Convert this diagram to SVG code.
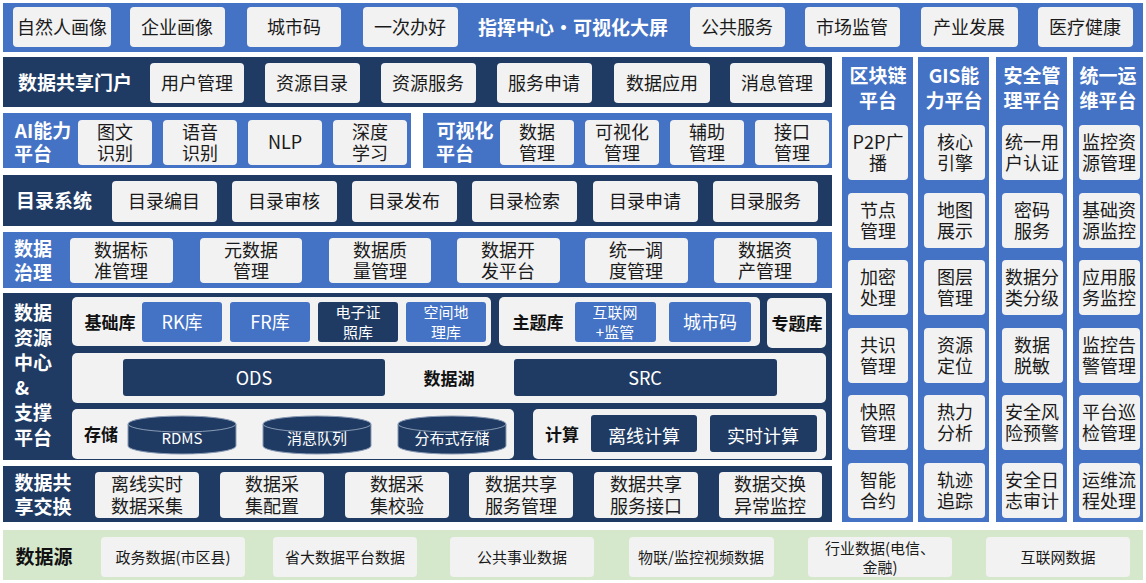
<svg xmlns="http://www.w3.org/2000/svg" width="1146" height="583" viewBox="0 0 1146 583">
<style>
text{font-family:"Noto Sans CJK SC","Liberation Sans",sans-serif;text-anchor:middle;dominant-baseline:central}
.b{fill:#4472C4}.d{fill:#1F3B63}.g{fill:#D5E8CC}
.box{fill:#F2F2F2;rx:4}
.pn{fill:#F2F2F2;rx:5}
.t{font-size:18px;fill:#1a1a1a}
.ts{font-size:15px;fill:#1a1a1a}
.w{font-size:18px;fill:#fff}
.L{font-size:19px;font-weight:bold;fill:#fff}
.K{font-size:17px;font-weight:bold;fill:#111}
.bb{fill:#4472C4;rx:3}.db{fill:#1F3B63;rx:3}
</style>
<rect width="1146" height="583" fill="#fff"/>
<g id="row-apps">
<rect class="b" x="3" y="3" width="1140" height="49"/>
<rect class="box" x="13" y="7" width="98" height="40"/><text class="t" x="62" y="26">自然人画像</text>
<rect class="box" x="130" y="7" width="95" height="40"/><text class="t" x="177" y="26">企业画像</text>
<rect class="box" x="247" y="7" width="94" height="40"/><text class="t" x="294" y="26">城市码</text>
<rect class="box" x="363" y="7" width="95" height="40"/><text class="t" x="410" y="26">一次办好</text>
<text class="L" x="573" y="26">指挥中心·可视化大屏</text>
<rect class="box" x="690" y="7" width="95" height="40"/><text class="t" x="737" y="26">公共服务</text>
<rect class="box" x="805" y="7" width="95" height="40"/><text class="t" x="852" y="26">市场监管</text>
<rect class="box" x="921" y="7" width="97" height="40"/><text class="t" x="969" y="26">产业发展</text>
<rect class="box" x="1038" y="7" width="95" height="40"/><text class="t" x="1085" y="26">医疗健康</text>
</g>
<g id="row-portal">
<rect class="d" x="3" y="57" width="829" height="50"/>
<text class="L" x="75" y="81">数据共享门户</text>
<rect class="box" x="150" y="63" width="94" height="40"/><text class="t" x="197" y="82">用户管理</text>
<rect class="box" x="265" y="63" width="95" height="40"/><text class="t" x="312" y="82">资源目录</text>
<rect class="box" x="381" y="63" width="95" height="40"/><text class="t" x="428" y="82">资源服务</text>
<rect class="box" x="497" y="63" width="95" height="40"/><text class="t" x="544" y="82">服务申请</text>
<rect class="box" x="614" y="63" width="96" height="40"/><text class="t" x="662" y="82">数据应用</text>
<rect class="box" x="730" y="63" width="95" height="40"/><text class="t" x="777" y="82">消息管理</text>
</g>
<g id="row-ai">
<rect class="b" x="3" y="113" width="408" height="55"/>
<text class="L" x="43" y="129">AI能力</text><text class="L" x="33" y="152">平台</text>
<rect class="box" x="78" y="120" width="74" height="45"/><text class="t" x="115" y="131">图文</text><text class="t" x="115" y="152">识别</text>
<rect class="box" x="163" y="120" width="74" height="45"/><text class="t" x="200" y="131">语音</text><text class="t" x="200" y="152">识别</text>
<rect class="box" x="248" y="120" width="74" height="45"/><text class="t" x="285" y="141">NLP</text>
<rect class="box" x="333" y="120" width="74" height="45"/><text class="t" x="370" y="131">深度</text><text class="t" x="370" y="152">学习</text>
</g>
<g id="row-vis">
<rect class="b" x="423" y="113" width="409" height="55"/>
<text class="L" x="465" y="129">可视化</text><text class="L" x="455" y="152">平台</text>
<rect class="box" x="500" y="120" width="74" height="45"/><text class="t" x="537" y="131">数据</text><text class="t" x="537" y="152">管理</text>
<rect class="box" x="585" y="120" width="74" height="45"/><text class="t" x="622" y="131">可视化</text><text class="t" x="622" y="152">管理</text>
<rect class="box" x="670" y="120" width="74" height="45"/><text class="t" x="707" y="131">辅助</text><text class="t" x="707" y="152">管理</text>
<rect class="box" x="755" y="120" width="74" height="45"/><text class="t" x="792" y="131">接口</text><text class="t" x="792" y="152">管理</text>
</g>
<g id="row-catalog">
<rect class="d" x="3" y="175" width="829" height="51"/>
<text class="L" x="54" y="199">目录系统</text>
<rect class="box" x="112" y="181" width="105" height="41"/><text class="t" x="164" y="200">目录编目</text>
<rect class="box" x="232" y="181" width="105" height="41"/><text class="t" x="284" y="200">目录审核</text>
<rect class="box" x="352" y="181" width="105" height="41"/><text class="t" x="404" y="200">目录发布</text>
<rect class="box" x="472" y="181" width="105" height="41"/><text class="t" x="524" y="200">目录检索</text>
<rect class="box" x="593" y="181" width="105" height="41"/><text class="t" x="645" y="200">目录申请</text>
<rect class="box" x="713" y="181" width="105" height="41"/><text class="t" x="765" y="200">目录服务</text>
</g>
<g id="row-gov">
<rect class="b" x="3" y="232" width="829" height="56"/>
<text class="L" x="33" y="247">数据</text><text class="L" x="33" y="271">治理</text>
<rect class="box" x="70" y="238" width="103" height="45"/><text class="t" x="121" y="249">数据标</text><text class="t" x="121" y="270">准管理</text>
<rect class="box" x="200" y="238" width="102" height="45"/><text class="t" x="251" y="249">元数据</text><text class="t" x="251" y="270">管理</text>
<rect class="box" x="329" y="238" width="102" height="45"/><text class="t" x="380" y="249">数据质</text><text class="t" x="380" y="270">量管理</text>
<rect class="box" x="457" y="238" width="103" height="45"/><text class="t" x="508" y="249">数据开</text><text class="t" x="508" y="270">发平台</text>
<rect class="box" x="585" y="238" width="103" height="45"/><text class="t" x="636" y="249">统一调</text><text class="t" x="636" y="270">度管理</text>
<rect class="box" x="714" y="238" width="103" height="45"/><text class="t" x="765" y="249">数据资</text><text class="t" x="765" y="270">产管理</text>
</g>
<g id="row-resource">
<rect class="d" x="3" y="293" width="829" height="167"/>
<text class="L" x="33" y="311">数据</text><text class="L" x="33" y="336">资源</text><text class="L" x="33" y="361">中心</text><text class="L" x="22" y="386">&amp;</text><text class="L" x="33" y="411">支撑</text><text class="L" x="33" y="436">平台</text>
<rect class="pn" x="72" y="297" width="419" height="49"/>
<text class="K" x="110" y="321">基础库</text>
<rect class="bb" x="142" y="302" width="80" height="40"/><text class="w" x="182" y="321">RK库</text>
<rect class="bb" x="230" y="302" width="80" height="40"/><text class="w" x="270" y="321">FR库</text>
<rect class="db" x="318" y="302" width="80" height="40"/><text class="ts" style="fill:#fff" x="358" y="311">电子证</text><text class="ts" style="fill:#fff" x="358" y="331">照库</text>
<rect class="bb" x="406" y="302" width="80" height="40"/><text class="ts" style="fill:#fff" x="446" y="311">空间地</text><text class="ts" style="fill:#fff" x="446" y="331">理库</text>
<rect class="pn" x="499" y="297" width="261" height="49"/>
<text class="K" x="538" y="321">主题库</text>
<rect class="bb" x="575" y="302" width="81" height="40"/><text class="ts" style="fill:#fff" x="615" y="311">互联网</text><text class="ts" style="fill:#fff" x="615" y="331">+监管</text>
<rect class="bb" x="669" y="302" width="82" height="40"/><text class="w" x="710" y="321">城市码</text>
<rect class="pn" x="767" y="298" width="59" height="50"/>
<text class="K" x="797" y="322">专题库</text>
<rect class="pn" x="72" y="353" width="754" height="50"/>
<rect class="db" x="123" y="359" width="262" height="37"/><text class="w" x="254" y="377">ODS</text>
<text class="K" x="449" y="377">数据湖</text>
<rect class="db" x="514" y="359" width="263" height="37"/><text class="w" x="645" y="377">SRC</text>
<rect class="pn" x="72" y="409" width="442" height="50"/>
<text class="K" x="101" y="433">存储</text>
<g fill="#1F3B63" stroke="#8a9bb5" stroke-width="1">
<path d="M128 424 v22 a54 8 0 0 0 108 0 v-22"/><ellipse cx="182" cy="424" rx="54" ry="8"/>
<path d="M263 424 v22 a54 8 0 0 0 108 0 v-22"/><ellipse cx="317" cy="424" rx="54" ry="8"/>
<path d="M398 424 v22 a54 8 0 0 0 108 0 v-22"/><ellipse cx="452" cy="424" rx="54" ry="8"/>
</g>
<text class="ts" style="fill:#fff" x="182" y="437">RDMS</text>
<text class="ts" style="fill:#fff" x="317" y="437">消息队列</text>
<text class="ts" style="fill:#fff" x="452" y="437">分布式存储</text>
<rect class="pn" x="533" y="409" width="293" height="50"/>
<text class="K" x="562" y="433">计算</text>
<rect class="db" x="591" y="415" width="106" height="37"/><text class="w" x="644" y="435">离线计算</text>
<rect class="db" x="710" y="415" width="107" height="37"/><text class="w" x="763" y="435">实时计算</text>
</g>
<g id="row-exchange">
<rect class="d" x="3" y="466" width="829" height="56"/>
<text class="L" x="43" y="481">数据共</text><text class="L" x="43" y="505">享交换</text>
<rect class="box" x="95" y="472" width="104" height="46"/><text class="t" x="147" y="483">离线实时</text><text class="t" x="147" y="505">数据采集</text>
<rect class="box" x="220" y="472" width="104" height="46"/><text class="t" x="272" y="483">数据采</text><text class="t" x="272" y="505">集配置</text>
<rect class="box" x="345" y="472" width="104" height="46"/><text class="t" x="397" y="483">数据采</text><text class="t" x="397" y="505">集校验</text>
<rect class="box" x="469" y="472" width="104" height="46"/><text class="t" x="521" y="483">数据共享</text><text class="t" x="521" y="505">服务管理</text>
<rect class="box" x="594" y="472" width="104" height="46"/><text class="t" x="646" y="483">数据共享</text><text class="t" x="646" y="505">服务接口</text>
<rect class="box" x="719" y="472" width="103" height="46"/><text class="t" x="770" y="483">数据交换</text><text class="t" x="770" y="505">异常监控</text>
</g>
<g id="col-blockchain">
<rect class="b" x="842" y="57" width="71" height="465"/>
<text class="L" x="878" y="74">区块链</text><text class="L" x="878" y="99">平台</text>
<rect class="box" x="848" y="125" width="60" height="55"/><text class="t" x="878" y="141">P2P广</text><text class="t" x="878" y="162">播</text>
<rect class="box" x="848" y="193" width="60" height="55"/><text class="t" x="878" y="209">节点</text><text class="t" x="878" y="230">管理</text>
<rect class="box" x="848" y="260" width="60" height="55"/><text class="t" x="878" y="276">加密</text><text class="t" x="878" y="297">处理</text>
<rect class="box" x="848" y="328" width="60" height="55"/><text class="t" x="878" y="344">共识</text><text class="t" x="878" y="365">管理</text>
<rect class="box" x="848" y="395" width="60" height="55"/><text class="t" x="878" y="411">快照</text><text class="t" x="878" y="432">管理</text>
<rect class="box" x="848" y="463" width="60" height="55"/><text class="t" x="878" y="479">智能</text><text class="t" x="878" y="500">合约</text>
</g>
<g id="col-gis">
<rect class="b" x="918" y="57" width="71" height="465"/>
<text class="L" x="954" y="74">GIS能</text><text class="L" x="954" y="99">力平台</text>
<rect class="box" x="924" y="125" width="61" height="55"/><text class="t" x="955" y="141">核心</text><text class="t" x="955" y="162">引擎</text>
<rect class="box" x="924" y="193" width="61" height="55"/><text class="t" x="955" y="209">地图</text><text class="t" x="955" y="230">展示</text>
<rect class="box" x="924" y="260" width="61" height="55"/><text class="t" x="955" y="276">图层</text><text class="t" x="955" y="297">管理</text>
<rect class="box" x="924" y="328" width="61" height="55"/><text class="t" x="955" y="344">资源</text><text class="t" x="955" y="365">定位</text>
<rect class="box" x="924" y="395" width="61" height="55"/><text class="t" x="955" y="411">热力</text><text class="t" x="955" y="432">分析</text>
<rect class="box" x="924" y="463" width="61" height="55"/><text class="t" x="955" y="479">轨迹</text><text class="t" x="955" y="500">追踪</text>
</g>
<g id="col-security">
<rect class="b" x="996" y="57" width="71" height="465"/>
<text class="L" x="1032" y="74">安全管</text><text class="L" x="1032" y="99">理平台</text>
<rect class="box" x="1002" y="125" width="61" height="55"/><text class="t" x="1032" y="141">统一用</text><text class="t" x="1032" y="162">户认证</text>
<rect class="box" x="1002" y="193" width="61" height="55"/><text class="t" x="1032" y="209">密码</text><text class="t" x="1032" y="230">服务</text>
<rect class="box" x="1002" y="260" width="61" height="55"/><text class="t" x="1032" y="276">数据分</text><text class="t" x="1032" y="297">类分级</text>
<rect class="box" x="1002" y="328" width="61" height="55"/><text class="t" x="1032" y="344">数据</text><text class="t" x="1032" y="365">脱敏</text>
<rect class="box" x="1002" y="395" width="61" height="55"/><text class="t" x="1032" y="411">安全风</text><text class="t" x="1032" y="432">险预警</text>
<rect class="box" x="1002" y="463" width="61" height="55"/><text class="t" x="1032" y="479">安全日</text><text class="t" x="1032" y="500">志审计</text>
</g>
<g id="col-ops">
<rect class="b" x="1073" y="57" width="70" height="465"/>
<text class="L" x="1108" y="74">统一运</text><text class="L" x="1108" y="99">维平台</text>
<rect class="box" x="1079" y="125" width="61" height="55"/><text class="t" x="1109" y="141">监控资</text><text class="t" x="1109" y="162">源管理</text>
<rect class="box" x="1079" y="193" width="61" height="55"/><text class="t" x="1109" y="209">基础资</text><text class="t" x="1109" y="230">源监控</text>
<rect class="box" x="1079" y="260" width="61" height="55"/><text class="t" x="1109" y="276">应用服</text><text class="t" x="1109" y="297">务监控</text>
<rect class="box" x="1079" y="328" width="61" height="55"/><text class="t" x="1109" y="344">监控告</text><text class="t" x="1109" y="365">警管理</text>
<rect class="box" x="1079" y="395" width="61" height="55"/><text class="t" x="1109" y="411">平台巡</text><text class="t" x="1109" y="432">检管理</text>
<rect class="box" x="1079" y="463" width="61" height="55"/><text class="t" x="1109" y="479">运维流</text><text class="t" x="1109" y="500">程处理</text>
</g>
<g id="row-source">
<rect class="g" x="3" y="530" width="1140" height="50"/>
<text class="K" style="font-size:19px" x="44" y="555">数据源</text>
<rect class="box" x="101" y="537" width="144" height="40"/><text class="ts" x="173" y="556">政务数据(市区县)</text>
<rect class="box" x="273" y="537" width="144" height="40"/><text class="ts" x="345" y="556">省大数据平台数据</text>
<rect class="box" x="450" y="537" width="144" height="40"/><text class="ts" x="522" y="556">公共事业数据</text>
<rect class="box" x="629" y="537" width="145" height="40"/><text class="ts" x="701" y="556">物联/监控视频数据</text>
<rect class="box" x="808" y="537" width="144" height="40"/><text class="ts" x="880" y="547">行业数据(电信、</text><text class="ts" x="880" y="566">金融)</text>
<rect class="box" x="986" y="537" width="144" height="40"/><text class="ts" x="1058" y="556">互联网数据</text>
</g>
<g id="connectors"></g>
</svg>
